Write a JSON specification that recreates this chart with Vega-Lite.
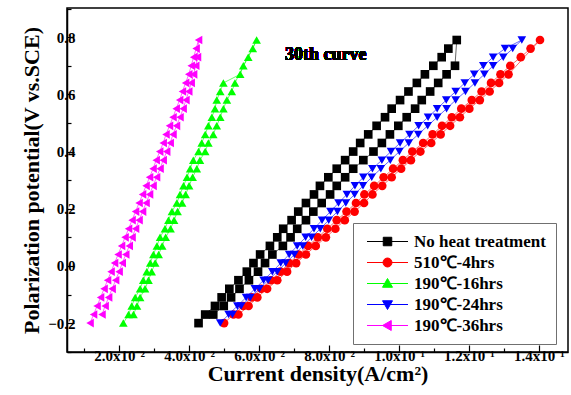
{
 "$schema": "https://vega.github.io/schema/vega-lite/v6.json",
 "width": 501, "height": 344,
 "autosize": {"type": "none"},
 "padding": {"left": 67, "top": 8, "right": 3, "bottom": 43},
 "background": "white",
 "config": {
  "view": {"stroke": "black", "strokeWidth": 1.5},
  "axis": {"domainColor": "black", "domainWidth": 1.5, "tickColor": "black", "tickWidth": 1.2, "grid": false,
           "labelFont": "Liberation Serif", "labelFontWeight": "bold", "labelFontSize": 15, "labelColor": "black",
           "titleFont": "Liberation Serif", "titleFontWeight": "bold", "titleFontSize": 22, "titleColor": "black"},
  "legend": {"strokeColor": "#707070", "strokeWidth": 1, "padding": 10, "fillColor": "white",
             "labelFont": "Liberation Serif", "labelFontSize": 17, "labelFontWeight": "bold", "labelColor": "black",
             "symbolSize": 100, "symbolStrokeWidth": 1, "symbolOffset": 16, "labelOffset": 18, "rowPadding": 3}
 },
 "data": {"values": [
  {"series":"No heat treatment","i":0,"x":0.0427,"y":-0.20},{"series":"No heat treatment","i":1,"x":0.0446,"y":-0.17},{"series":"No heat treatment","i":2,"x":0.0474,"y":-0.14},{"series":"No heat treatment","i":3,"x":0.0493,"y":-0.11},{"series":"No heat treatment","i":4,"x":0.0515,"y":-0.08},{"series":"No heat treatment","i":5,"x":0.0541,"y":-0.05},{"series":"No heat treatment","i":6,"x":0.0565,"y":-0.02},{"series":"No heat treatment","i":7,"x":0.0584,"y":0.01},{"series":"No heat treatment","i":8,"x":0.0603,"y":0.04},{"series":"No heat treatment","i":9,"x":0.0631,"y":0.07},{"series":"No heat treatment","i":10,"x":0.0652,"y":0.10},{"series":"No heat treatment","i":11,"x":0.0669,"y":0.13},{"series":"No heat treatment","i":12,"x":0.0693,"y":0.16},{"series":"No heat treatment","i":13,"x":0.0712,"y":0.19},{"series":"No heat treatment","i":14,"x":0.0734,"y":0.22},{"series":"No heat treatment","i":15,"x":0.0757,"y":0.25},{"series":"No heat treatment","i":16,"x":0.0774,"y":0.28},{"series":"No heat treatment","i":17,"x":0.0798,"y":0.31},{"series":"No heat treatment","i":18,"x":0.0822,"y":0.34},{"series":"No heat treatment","i":19,"x":0.0846,"y":0.37},{"series":"No heat treatment","i":20,"x":0.0869,"y":0.40},{"series":"No heat treatment","i":21,"x":0.0889,"y":0.43},{"series":"No heat treatment","i":22,"x":0.0912,"y":0.46},{"series":"No heat treatment","i":23,"x":0.0936,"y":0.49},{"series":"No heat treatment","i":24,"x":0.0960,"y":0.52},{"series":"No heat treatment","i":25,"x":0.0979,"y":0.55},{"series":"No heat treatment","i":26,"x":0.1003,"y":0.58},{"series":"No heat treatment","i":27,"x":0.1027,"y":0.61},{"series":"No heat treatment","i":28,"x":0.1051,"y":0.64},{"series":"No heat treatment","i":29,"x":0.1074,"y":0.67},{"series":"No heat treatment","i":30,"x":0.1098,"y":0.70},{"series":"No heat treatment","i":31,"x":0.1122,"y":0.73},{"series":"No heat treatment","i":32,"x":0.1141,"y":0.76},{"series":"No heat treatment","i":33,"x":0.1165,"y":0.79},
  {"series":"No heat treatment","i":34,"x":0.1160,"y":0.70},{"series":"No heat treatment","i":35,"x":0.1136,"y":0.67},{"series":"No heat treatment","i":36,"x":0.1112,"y":0.64},{"series":"No heat treatment","i":37,"x":0.1089,"y":0.61},{"series":"No heat treatment","i":38,"x":0.1065,"y":0.58},{"series":"No heat treatment","i":39,"x":0.1046,"y":0.55},{"series":"No heat treatment","i":40,"x":0.1022,"y":0.52},{"series":"No heat treatment","i":41,"x":0.0998,"y":0.49},{"series":"No heat treatment","i":42,"x":0.0974,"y":0.46},{"series":"No heat treatment","i":43,"x":0.0951,"y":0.43},{"series":"No heat treatment","i":44,"x":0.0927,"y":0.40},{"series":"No heat treatment","i":45,"x":0.0898,"y":0.37},{"series":"No heat treatment","i":46,"x":0.0869,"y":0.34},{"series":"No heat treatment","i":47,"x":0.0846,"y":0.31},{"series":"No heat treatment","i":48,"x":0.0822,"y":0.28},{"series":"No heat treatment","i":49,"x":0.0803,"y":0.25},{"series":"No heat treatment","i":50,"x":0.0779,"y":0.22},{"series":"No heat treatment","i":51,"x":0.0755,"y":0.19},{"series":"No heat treatment","i":52,"x":0.0734,"y":0.16},{"series":"No heat treatment","i":53,"x":0.0709,"y":0.13},{"series":"No heat treatment","i":54,"x":0.0690,"y":0.10},{"series":"No heat treatment","i":55,"x":0.0668,"y":0.07},{"series":"No heat treatment","i":56,"x":0.0638,"y":0.04},{"series":"No heat treatment","i":57,"x":0.0617,"y":0.01},{"series":"No heat treatment","i":58,"x":0.0597,"y":-0.02},{"series":"No heat treatment","i":59,"x":0.0571,"y":-0.05},{"series":"No heat treatment","i":60,"x":0.0544,"y":-0.08},{"series":"No heat treatment","i":61,"x":0.0520,"y":-0.11},{"series":"No heat treatment","i":62,"x":0.0499,"y":-0.14},{"series":"No heat treatment","i":63,"x":0.0469,"y":-0.17},

  {"series":"510℃-4hrs","i":0,"x":0.0500,"y":-0.20},{"series":"510℃-4hrs","i":1,"x":0.0527,"y":-0.17},{"series":"510℃-4hrs","i":2,"x":0.0555,"y":-0.14},{"series":"510℃-4hrs","i":3,"x":0.0579,"y":-0.11},{"series":"510℃-4hrs","i":4,"x":0.0606,"y":-0.08},{"series":"510℃-4hrs","i":5,"x":0.0634,"y":-0.05},{"series":"510℃-4hrs","i":6,"x":0.0661,"y":-0.02},{"series":"510℃-4hrs","i":7,"x":0.0686,"y":0.01},{"series":"510℃-4hrs","i":8,"x":0.0713,"y":0.04},{"series":"510℃-4hrs","i":9,"x":0.0740,"y":0.07},{"series":"510℃-4hrs","i":10,"x":0.0768,"y":0.10},{"series":"510℃-4hrs","i":11,"x":0.0795,"y":0.13},{"series":"510℃-4hrs","i":12,"x":0.0822,"y":0.16},{"series":"510℃-4hrs","i":13,"x":0.0850,"y":0.19},{"series":"510℃-4hrs","i":14,"x":0.0877,"y":0.22},{"series":"510℃-4hrs","i":15,"x":0.0901,"y":0.25},{"series":"510℃-4hrs","i":16,"x":0.0929,"y":0.28},{"series":"510℃-4hrs","i":17,"x":0.0956,"y":0.31},{"series":"510℃-4hrs","i":18,"x":0.0983,"y":0.34},{"series":"510℃-4hrs","i":19,"x":0.1011,"y":0.37},{"series":"510℃-4hrs","i":20,"x":0.1038,"y":0.40},{"series":"510℃-4hrs","i":21,"x":0.1069,"y":0.43},{"series":"510℃-4hrs","i":22,"x":0.1096,"y":0.46},{"series":"510℃-4hrs","i":23,"x":0.1123,"y":0.49},{"series":"510℃-4hrs","i":24,"x":0.1151,"y":0.52},{"series":"510℃-4hrs","i":25,"x":0.1178,"y":0.55},{"series":"510℃-4hrs","i":26,"x":0.1208,"y":0.58},{"series":"510℃-4hrs","i":27,"x":0.1236,"y":0.61},{"series":"510℃-4hrs","i":28,"x":0.1263,"y":0.64},{"series":"510℃-4hrs","i":29,"x":0.1290,"y":0.67},{"series":"510℃-4hrs","i":30,"x":0.1318,"y":0.70},{"series":"510℃-4hrs","i":31,"x":0.1348,"y":0.73},{"series":"510℃-4hrs","i":32,"x":0.1376,"y":0.76},{"series":"510℃-4hrs","i":33,"x":0.1403,"y":0.79},
  {"series":"510℃-4hrs","i":34,"x":0.1313,"y":0.67},{"series":"510℃-4hrs","i":35,"x":0.1286,"y":0.64},{"series":"510℃-4hrs","i":36,"x":0.1259,"y":0.61},{"series":"510℃-4hrs","i":37,"x":0.1231,"y":0.58},{"series":"510℃-4hrs","i":38,"x":0.1201,"y":0.55},{"series":"510℃-4hrs","i":39,"x":0.1174,"y":0.52},{"series":"510℃-4hrs","i":40,"x":0.1146,"y":0.49},{"series":"510℃-4hrs","i":41,"x":0.1119,"y":0.46},{"series":"510℃-4hrs","i":42,"x":0.1092,"y":0.43},{"series":"510℃-4hrs","i":43,"x":0.1061,"y":0.40},{"series":"510℃-4hrs","i":44,"x":0.1034,"y":0.37},{"series":"510℃-4hrs","i":45,"x":0.1006,"y":0.34},{"series":"510℃-4hrs","i":46,"x":0.0979,"y":0.31},{"series":"510℃-4hrs","i":47,"x":0.0952,"y":0.28},{"series":"510℃-4hrs","i":48,"x":0.0924,"y":0.25},{"series":"510℃-4hrs","i":49,"x":0.0900,"y":0.22},{"series":"510℃-4hrs","i":50,"x":0.0873,"y":0.19},{"series":"510℃-4hrs","i":51,"x":0.0845,"y":0.16},{"series":"510℃-4hrs","i":52,"x":0.0818,"y":0.13},{"series":"510℃-4hrs","i":53,"x":0.0791,"y":0.10},{"series":"510℃-4hrs","i":54,"x":0.0762,"y":0.07},{"series":"510℃-4hrs","i":55,"x":0.0734,"y":0.04},{"series":"510℃-4hrs","i":56,"x":0.0706,"y":0.01},{"series":"510℃-4hrs","i":57,"x":0.0680,"y":-0.02},{"series":"510℃-4hrs","i":58,"x":0.0652,"y":-0.05},{"series":"510℃-4hrs","i":59,"x":0.0623,"y":-0.08},{"series":"510℃-4hrs","i":60,"x":0.0595,"y":-0.11},{"series":"510℃-4hrs","i":61,"x":0.0570,"y":-0.14},{"series":"510℃-4hrs","i":62,"x":0.0541,"y":-0.17},

  {"series":"190℃-16hrs","i":0,"x":0.0212,"y":-0.20},{"series":"190℃-16hrs","i":1,"x":0.0227,"y":-0.17},{"series":"190℃-16hrs","i":2,"x":0.0236,"y":-0.14},{"series":"190℃-16hrs","i":3,"x":0.0246,"y":-0.11},{"series":"190℃-16hrs","i":4,"x":0.0260,"y":-0.08},{"series":"190℃-16hrs","i":5,"x":0.0269,"y":-0.05},{"series":"190℃-16hrs","i":6,"x":0.0279,"y":-0.02},{"series":"190℃-16hrs","i":7,"x":0.0289,"y":0.01},{"series":"190℃-16hrs","i":8,"x":0.0298,"y":0.04},{"series":"190℃-16hrs","i":9,"x":0.0308,"y":0.07},{"series":"190℃-16hrs","i":10,"x":0.0317,"y":0.10},{"series":"190℃-16hrs","i":11,"x":0.0331,"y":0.13},{"series":"190℃-16hrs","i":12,"x":0.0341,"y":0.16},{"series":"190℃-16hrs","i":13,"x":0.0351,"y":0.19},{"series":"190℃-16hrs","i":14,"x":0.0365,"y":0.22},{"series":"190℃-16hrs","i":15,"x":0.0374,"y":0.25},{"series":"190℃-16hrs","i":16,"x":0.0384,"y":0.28},{"series":"190℃-16hrs","i":17,"x":0.0394,"y":0.31},{"series":"190℃-16hrs","i":18,"x":0.0403,"y":0.34},{"series":"190℃-16hrs","i":19,"x":0.0412,"y":0.37},{"series":"190℃-16hrs","i":20,"x":0.0427,"y":0.40},{"series":"190℃-16hrs","i":21,"x":0.0436,"y":0.43},{"series":"190℃-16hrs","i":22,"x":0.0446,"y":0.46},{"series":"190℃-16hrs","i":23,"x":0.0455,"y":0.49},{"series":"190℃-16hrs","i":24,"x":0.0465,"y":0.52},{"series":"190℃-16hrs","i":25,"x":0.0474,"y":0.55},{"series":"190℃-16hrs","i":26,"x":0.0479,"y":0.58},{"series":"190℃-16hrs","i":27,"x":0.0489,"y":0.61},{"series":"190℃-16hrs","i":28,"x":0.0498,"y":0.64},{"series":"190℃-16hrs","i":29,"x":0.0546,"y":0.67},{"series":"190℃-16hrs","i":30,"x":0.0555,"y":0.70},{"series":"190℃-16hrs","i":31,"x":0.0569,"y":0.73},{"series":"190℃-16hrs","i":32,"x":0.0582,"y":0.76},{"series":"190℃-16hrs","i":33,"x":0.0593,"y":0.79},
  {"series":"190℃-16hrs","i":34,"x":0.0531,"y":0.64},{"series":"190℃-16hrs","i":35,"x":0.0522,"y":0.61},{"series":"190℃-16hrs","i":36,"x":0.0508,"y":0.58},{"series":"190℃-16hrs","i":37,"x":0.0498,"y":0.55},{"series":"190℃-16hrs","i":38,"x":0.0489,"y":0.52},{"series":"190℃-16hrs","i":39,"x":0.0479,"y":0.49},{"series":"190℃-16hrs","i":40,"x":0.0469,"y":0.46},{"series":"190℃-16hrs","i":41,"x":0.0455,"y":0.43},{"series":"190℃-16hrs","i":42,"x":0.0446,"y":0.40},{"series":"190℃-16hrs","i":43,"x":0.0431,"y":0.37},{"series":"190℃-16hrs","i":44,"x":0.0422,"y":0.34},{"series":"190℃-16hrs","i":45,"x":0.0410,"y":0.31},{"series":"190℃-16hrs","i":46,"x":0.0400,"y":0.28},{"series":"190℃-16hrs","i":47,"x":0.0390,"y":0.25},{"series":"190℃-16hrs","i":48,"x":0.0380,"y":0.22},{"series":"190℃-16hrs","i":49,"x":0.0367,"y":0.19},{"series":"190℃-16hrs","i":50,"x":0.0357,"y":0.16},{"series":"190℃-16hrs","i":51,"x":0.0347,"y":0.13},{"series":"190℃-16hrs","i":52,"x":0.0333,"y":0.10},{"series":"190℃-16hrs","i":53,"x":0.0323,"y":0.07},{"series":"190℃-16hrs","i":54,"x":0.0313,"y":0.04},{"series":"190℃-16hrs","i":55,"x":0.0303,"y":0.01},{"series":"190℃-16hrs","i":56,"x":0.0293,"y":-0.02},{"series":"190℃-16hrs","i":57,"x":0.0284,"y":-0.05},{"series":"190℃-16hrs","i":58,"x":0.0274,"y":-0.08},{"series":"190℃-16hrs","i":59,"x":0.0260,"y":-0.11},{"series":"190℃-16hrs","i":60,"x":0.0251,"y":-0.14},{"series":"190℃-16hrs","i":61,"x":0.0241,"y":-0.17},

  {"series":"190℃-24hrs","i":0,"x":0.0489,"y":-0.20},{"series":"190℃-24hrs","i":1,"x":0.0513,"y":-0.17},{"series":"190℃-24hrs","i":2,"x":0.0538,"y":-0.14},{"series":"190℃-24hrs","i":3,"x":0.0563,"y":-0.11},{"series":"190℃-24hrs","i":4,"x":0.0588,"y":-0.08},{"series":"190℃-24hrs","i":5,"x":0.0613,"y":-0.05},{"series":"190℃-24hrs","i":6,"x":0.0638,"y":-0.02},{"series":"190℃-24hrs","i":7,"x":0.0662,"y":0.01},{"series":"190℃-24hrs","i":8,"x":0.0686,"y":0.04},{"series":"190℃-24hrs","i":9,"x":0.0709,"y":0.07},{"series":"190℃-24hrs","i":10,"x":0.0733,"y":0.10},{"series":"190℃-24hrs","i":11,"x":0.0757,"y":0.13},{"series":"190℃-24hrs","i":12,"x":0.0780,"y":0.16},{"series":"190℃-24hrs","i":13,"x":0.0804,"y":0.19},{"series":"190℃-24hrs","i":14,"x":0.0827,"y":0.22},{"series":"190℃-24hrs","i":15,"x":0.0851,"y":0.25},{"series":"190℃-24hrs","i":16,"x":0.0874,"y":0.28},{"series":"190℃-24hrs","i":17,"x":0.0898,"y":0.31},{"series":"190℃-24hrs","i":18,"x":0.0924,"y":0.34},{"series":"190℃-24hrs","i":19,"x":0.0951,"y":0.37},{"series":"190℃-24hrs","i":20,"x":0.0977,"y":0.40},{"series":"190℃-24hrs","i":21,"x":0.1003,"y":0.43},{"series":"190℃-24hrs","i":22,"x":0.1030,"y":0.46},{"series":"190℃-24hrs","i":23,"x":0.1056,"y":0.49},{"series":"190℃-24hrs","i":24,"x":0.1083,"y":0.52},{"series":"190℃-24hrs","i":25,"x":0.1109,"y":0.55},{"series":"190℃-24hrs","i":26,"x":0.1135,"y":0.58},{"series":"190℃-24hrs","i":27,"x":0.1162,"y":0.61},{"series":"190℃-24hrs","i":28,"x":0.1188,"y":0.64},{"series":"190℃-24hrs","i":29,"x":0.1215,"y":0.67},{"series":"190℃-24hrs","i":30,"x":0.1241,"y":0.70},{"series":"190℃-24hrs","i":31,"x":0.1269,"y":0.73},{"series":"190℃-24hrs","i":32,"x":0.1303,"y":0.76},{"series":"190℃-24hrs","i":33,"x":0.1351,"y":0.79},
  {"series":"190℃-24hrs","i":34,"x":0.1325,"y":0.76},{"series":"190℃-24hrs","i":35,"x":0.1298,"y":0.73},{"series":"190℃-24hrs","i":36,"x":0.1269,"y":0.70},{"series":"190℃-24hrs","i":37,"x":0.1244,"y":0.67},{"series":"190℃-24hrs","i":38,"x":0.1217,"y":0.64},{"series":"190℃-24hrs","i":39,"x":0.1190,"y":0.61},{"series":"190℃-24hrs","i":40,"x":0.1162,"y":0.58},{"series":"190℃-24hrs","i":41,"x":0.1136,"y":0.55},{"series":"190℃-24hrs","i":42,"x":0.1109,"y":0.52},{"series":"190℃-24hrs","i":43,"x":0.1082,"y":0.49},{"series":"190℃-24hrs","i":44,"x":0.1055,"y":0.46},{"series":"190℃-24hrs","i":45,"x":0.1028,"y":0.43},{"series":"190℃-24hrs","i":46,"x":0.1001,"y":0.40},{"series":"190℃-24hrs","i":47,"x":0.0975,"y":0.37},{"series":"190℃-24hrs","i":48,"x":0.0948,"y":0.34},{"series":"190℃-24hrs","i":49,"x":0.0922,"y":0.31},{"series":"190℃-24hrs","i":50,"x":0.0897,"y":0.28},{"series":"190℃-24hrs","i":51,"x":0.0873,"y":0.25},{"series":"190℃-24hrs","i":52,"x":0.0848,"y":0.22},{"series":"190℃-24hrs","i":53,"x":0.0824,"y":0.19},{"series":"190℃-24hrs","i":54,"x":0.0799,"y":0.16},{"series":"190℃-24hrs","i":55,"x":0.0775,"y":0.13},{"series":"190℃-24hrs","i":56,"x":0.0750,"y":0.10},{"series":"190℃-24hrs","i":57,"x":0.0725,"y":0.07},{"series":"190℃-24hrs","i":58,"x":0.0701,"y":0.04},{"series":"190℃-24hrs","i":59,"x":0.0676,"y":0.01},{"series":"190℃-24hrs","i":60,"x":0.0652,"y":-0.02},{"series":"190℃-24hrs","i":61,"x":0.0626,"y":-0.05},{"series":"190℃-24hrs","i":62,"x":0.0601,"y":-0.08},{"series":"190℃-24hrs","i":63,"x":0.0575,"y":-0.11},{"series":"190℃-24hrs","i":64,"x":0.0549,"y":-0.14},{"series":"190℃-24hrs","i":65,"x":0.0524,"y":-0.17},

  {"series":"190℃-36hrs","i":0,"x":0.0117,"y":-0.20},{"series":"190℃-36hrs","i":1,"x":0.0127,"y":-0.17},{"series":"190℃-36hrs","i":2,"x":0.0137,"y":-0.14},{"series":"190℃-36hrs","i":3,"x":0.0147,"y":-0.11},{"series":"190℃-36hrs","i":4,"x":0.0157,"y":-0.08},{"series":"190℃-36hrs","i":5,"x":0.0167,"y":-0.05},{"series":"190℃-36hrs","i":6,"x":0.0177,"y":-0.02},{"series":"190℃-36hrs","i":7,"x":0.0187,"y":0.01},{"series":"190℃-36hrs","i":8,"x":0.0197,"y":0.04},{"series":"190℃-36hrs","i":9,"x":0.0207,"y":0.07},{"series":"190℃-36hrs","i":10,"x":0.0217,"y":0.10},{"series":"190℃-36hrs","i":11,"x":0.0227,"y":0.13},{"series":"190℃-36hrs","i":12,"x":0.0237,"y":0.16},{"series":"190℃-36hrs","i":13,"x":0.0247,"y":0.19},{"series":"190℃-36hrs","i":14,"x":0.0257,"y":0.22},{"series":"190℃-36hrs","i":15,"x":0.0267,"y":0.25},{"series":"190℃-36hrs","i":16,"x":0.0277,"y":0.28},{"series":"190℃-36hrs","i":17,"x":0.0287,"y":0.31},{"series":"190℃-36hrs","i":18,"x":0.0297,"y":0.34},{"series":"190℃-36hrs","i":19,"x":0.0306,"y":0.37},{"series":"190℃-36hrs","i":20,"x":0.0316,"y":0.40},{"series":"190℃-36hrs","i":21,"x":0.0326,"y":0.43},{"series":"190℃-36hrs","i":22,"x":0.0334,"y":0.46},{"series":"190℃-36hrs","i":23,"x":0.0344,"y":0.49},{"series":"190℃-36hrs","i":24,"x":0.0354,"y":0.52},{"series":"190℃-36hrs","i":25,"x":0.0363,"y":0.55},{"series":"190℃-36hrs","i":26,"x":0.0373,"y":0.58},{"series":"190℃-36hrs","i":27,"x":0.0381,"y":0.61},{"series":"190℃-36hrs","i":28,"x":0.0390,"y":0.64},{"series":"190℃-36hrs","i":29,"x":0.0399,"y":0.67},{"series":"190℃-36hrs","i":30,"x":0.0406,"y":0.70},{"series":"190℃-36hrs","i":31,"x":0.0413,"y":0.73},{"series":"190℃-36hrs","i":32,"x":0.0420,"y":0.76},{"series":"190℃-36hrs","i":33,"x":0.0427,"y":0.79},
  {"series":"190℃-36hrs","i":34,"x":0.0424,"y":0.73},{"series":"190℃-36hrs","i":35,"x":0.0419,"y":0.70},{"series":"190℃-36hrs","i":36,"x":0.0413,"y":0.67},{"series":"190℃-36hrs","i":37,"x":0.0406,"y":0.64},{"series":"190℃-36hrs","i":38,"x":0.0399,"y":0.61},{"series":"190℃-36hrs","i":39,"x":0.0391,"y":0.58},{"series":"190℃-36hrs","i":40,"x":0.0383,"y":0.55},{"series":"190℃-36hrs","i":41,"x":0.0374,"y":0.52},{"series":"190℃-36hrs","i":42,"x":0.0364,"y":0.49},{"series":"190℃-36hrs","i":43,"x":0.0354,"y":0.46},{"series":"190℃-36hrs","i":44,"x":0.0346,"y":0.43},{"series":"190℃-36hrs","i":45,"x":0.0336,"y":0.40},{"series":"190℃-36hrs","i":46,"x":0.0326,"y":0.37},{"series":"190℃-36hrs","i":47,"x":0.0317,"y":0.34},{"series":"190℃-36hrs","i":48,"x":0.0307,"y":0.31},{"series":"190℃-36hrs","i":49,"x":0.0297,"y":0.28},{"series":"190℃-36hrs","i":50,"x":0.0287,"y":0.25},{"series":"190℃-36hrs","i":51,"x":0.0277,"y":0.22},{"series":"190℃-36hrs","i":52,"x":0.0267,"y":0.19},{"series":"190℃-36hrs","i":53,"x":0.0257,"y":0.16},{"series":"190℃-36hrs","i":54,"x":0.0247,"y":0.13},{"series":"190℃-36hrs","i":55,"x":0.0237,"y":0.10},{"series":"190℃-36hrs","i":56,"x":0.0229,"y":0.07},{"series":"190℃-36hrs","i":57,"x":0.0219,"y":0.04},{"series":"190℃-36hrs","i":58,"x":0.0209,"y":0.01},{"series":"190℃-36hrs","i":59,"x":0.0200,"y":-0.02},{"series":"190℃-36hrs","i":60,"x":0.0190,"y":-0.05},{"series":"190℃-36hrs","i":61,"x":0.0180,"y":-0.08},{"series":"190℃-36hrs","i":62,"x":0.0170,"y":-0.11},{"series":"190℃-36hrs","i":63,"x":0.0160,"y":-0.14},{"series":"190℃-36hrs","i":64,"x":0.0151,"y":-0.17}
 ]},
 "encoding": {
  "x": {"field": "x", "type": "quantitative", "title": "Current density(A/cm²)",
        "scale": {"domain": [0.0051, 0.1483], "nice": false, "zero": false},
        "axis": {"values": [0.01,0.02,0.03,0.04,0.05,0.06,0.07,0.08,0.09,0.10,0.11,0.12,0.13,0.14],
                 "labelExpr": "round(datum.value*100) % 2 == 1 ? '' : (datum.value < 0.099 ? format(datum.value*100, '.1f') + 'x10⁻²' : format(datum.value*10, '.1f') + 'x10⁻¹')",
                 "tickSize": {"condition": {"test": "round(datum.value*100) % 2 == 1", "value": -4}, "value": -7},
                 "labelPadding": 3, "titlePadding": 0, "labelFlush": false}},
  "y": {"field": "y", "type": "quantitative", "title": "Polarization potential(V vs.SCE)",
        "scale": {"domain": [-0.301, 0.902], "nice": false, "zero": false},
        "axis": {"values": [-0.3,-0.2,-0.1,0,0.1,0.2,0.3,0.4,0.5,0.6,0.7,0.8,0.9],
                 "labelExpr": "abs(round(datum.value*10)) % 2 == 1 ? '' : format(datum.value, '.1f')",
                 "tickSize": {"condition": {"test": "abs(round(datum.value*10)) % 2 == 1", "value": -4}, "value": -7},
                 "labelPadding": -1, "titlePadding": 4}}
 },
 "layer": [
  {"transform": [{"filter": "datum.series == 'No heat treatment'"}], "mark": {"type": "line", "strokeWidth": 0.6, "color": "#000000"}, "encoding": {"order": {"field": "i", "type": "quantitative"}}},
  {"transform": [{"filter": "datum.series == 'No heat treatment'"}], "mark": {"type": "point", "filled": true, "opacity": 1, "size": 75, "shape": "square", "color": "#000000"}},
  {"transform": [{"filter": "datum.series == '510℃-4hrs'"}], "mark": {"type": "line", "strokeWidth": 0.6, "color": "#ff0000"}, "encoding": {"order": {"field": "i", "type": "quantitative"}}},
  {"transform": [{"filter": "datum.series == '510℃-4hrs'"}], "mark": {"type": "point", "filled": true, "opacity": 1, "size": 75, "shape": "circle", "color": "#ff0000"}},
  {"transform": [{"filter": "datum.series == '190℃-16hrs'"}], "mark": {"type": "line", "strokeWidth": 0.6, "color": "#00ff00"}, "encoding": {"order": {"field": "i", "type": "quantitative"}}},
  {"transform": [{"filter": "datum.series == '190℃-16hrs'"}], "mark": {"type": "point", "filled": true, "opacity": 1, "size": 75, "shape": "triangle-up", "color": "#00ff00"}},
  {"transform": [{"filter": "datum.series == '190℃-24hrs'"}], "mark": {"type": "line", "strokeWidth": 0.6, "color": "#0000ff"}, "encoding": {"order": {"field": "i", "type": "quantitative"}}},
  {"transform": [{"filter": "datum.series == '190℃-24hrs'"}], "mark": {"type": "point", "filled": true, "opacity": 1, "size": 75, "shape": "triangle-down", "color": "#0000ff"}},
  {"transform": [{"filter": "datum.series == '190℃-36hrs'"}], "mark": {"type": "line", "strokeWidth": 0.6, "color": "#ff00ff"}, "encoding": {"order": {"field": "i", "type": "quantitative"}}},
  {"transform": [{"filter": "datum.series == '190℃-36hrs'"}], "mark": {"type": "point", "filled": true, "opacity": 1, "size": 75, "shape": "triangle-left", "color": "#ff00ff"}},
  {"transform": [{"filter": "false"}],
   "mark": {"type": "point", "filled": true, "opacity": 1, "strokeWidth": 1},
   "encoding": {"color": {"field": "series", "type": "nominal",
                          "scale": {"domain": ["No heat treatment","510℃-4hrs","190℃-16hrs","190℃-24hrs","190℃-36hrs"], "range": ["#000000","#ff0000","#00ff00","#0000ff","#ff00ff"]},
                          "legend": {"title": null, "orient": "none", "legendX": 286, "legendY": 215}},
                "stroke": {"field": "series", "type": "nominal",
                           "scale": {"domain": ["No heat treatment","510℃-4hrs","190℃-16hrs","190℃-24hrs","190℃-36hrs"], "range": ["#000000","#ff0000","#00ff00","#0000ff","#ff00ff"]},
                           "legend": {"title": null, "orient": "none", "legendX": 286, "legendY": 215}},
                "shape": {"field": "series", "type": "nominal",
                          "scale": {"domain": ["No heat treatment","510℃-4hrs","190℃-16hrs","190℃-24hrs","190℃-36hrs"],
                                    "range": ["M-4.1,0H4.1M-0.85,-0.85H0.85V0.85H-0.85Z",
                                              "M-4.1,0H4.1M-0.9,0A0.9,0.9 0 1,0 0.9,0A0.9,0.9 0 1,0 -0.9,0Z",
                                              "M-4.1,0H4.1M0,-1L1,0.75L-1,0.75Z",
                                              "M-4.1,0H4.1M0,1L1,-0.75L-1,-0.75Z",
                                              "M-4.1,0H4.1M-1,0L0.75,-1L0.75,1Z"]},
                          "legend": {"title": null, "orient": "none", "legendX": 286, "legendY": 215}}}},
  {"mark": {"type": "text", "font": "Liberation Serif", "fontWeight": "bold", "fontSize": 18, "align": "left", "baseline": "middle", "color": "black"},
   "encoding": {"x": {"datum": 0.0674}, "y": {"datum": 0.738}, "text": {"value": "30th curve"}}}
 ]
}
